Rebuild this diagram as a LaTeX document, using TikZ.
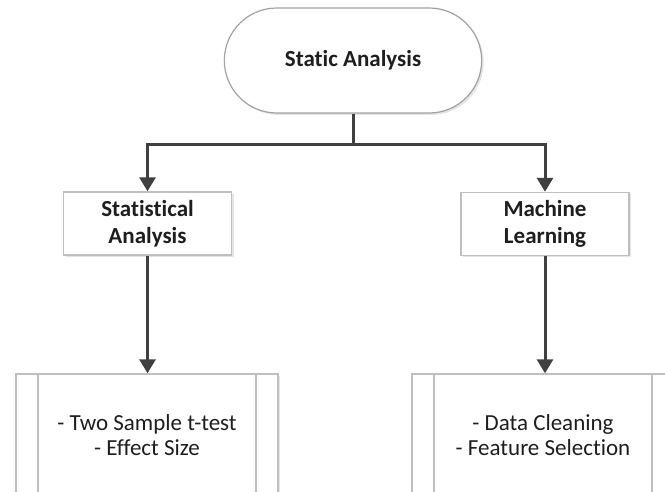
\documentclass[tikz,border=0pt]{standalone}
\usepackage{fontspec}
\setmainfont{Carlito}[Ligatures=NoCommon]
\usetikzlibrary{positioning, calc, arrows.meta, shapes, shadows}

\definecolor{linegray}{HTML}{404040}
\definecolor{boxgray}{HTML}{BFBFBF}
\definecolor{textgray}{HTML}{1E1E1E}

\begin{document}
\begin{tikzpicture}[x=1pt, y=-1pt,
    every node/.style={font=\fontsize{23}{26}\selectfont, text=textgray, align=center},
    shade/.style={drop shadow={shadow xshift=2pt, shadow yshift=-2pt, fill=black, opacity=0.10}},
    startbox/.style={rounded rectangle, draw=boxgray!85!black, fill=white, line width=1.2pt,
      minimum width=264pt, minimum height=105pt, font=\bfseries\fontsize{23}{26}\selectfont, shade},
    stagebox/.style={rectangle, draw=boxgray, fill=white, line width=1.4pt,
      minimum width=168pt, minimum height=63pt, font=\bfseries\fontsize{23}{27}\selectfont, shade},
    procbox/.style={rectangle, draw=boxgray, fill=white, line width=1.4pt,
      minimum width=262pt, minimum height=123pt, font=\fontsize{23}{25}\selectfont, shade,
      path picture={
        \draw[boxgray, line width=1.4pt]
          ([xshift=22pt]path picture bounding box.north west) -- ([xshift=22pt]path picture bounding box.south west)
          ([xshift=-22pt]path picture bounding box.north east) -- ([xshift=-22pt]path picture bounding box.south east);
      }},
    link/.style={draw=linegray, line width=3pt},
    arrow/.style={link, -{Triangle[width=16pt, length=14pt]}}
  ]
  \path[use as bounding box, clip] (0,0) rectangle (665,492);

  % top of the chart
  \node[startbox] (static) at (353,60.5) {Static Analysis};

  % the two branches
  \node[stagebox] (stat) at (147.5,223.5) {Statistical\\Analysis};
  \node[stagebox] (ml) at (545,224) {Machine\\Learning};

  % what each branch does
  \node[procbox] (tests) at (147,435.5) {- Two Sample t-test\\- Effect Size};
  \node[procbox] (prep) at (543,435.5) {- Data Cleaning\\- Feature Selection};

  \draw[link] (static.south) -- ++(0,31) coordinate (split);
  \draw[arrow] (split) -| (stat.north);
  \draw[arrow] (split) -| (ml.north);
  \draw[arrow] (stat.south) -- (stat.south |- tests.north);
  \draw[arrow] (ml.south) -- (ml.south |- prep.north);
\end{tikzpicture}
\end{document}
